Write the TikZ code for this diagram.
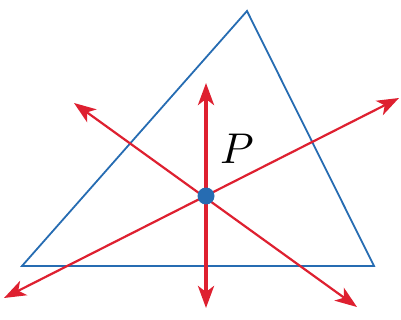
\documentclass[tikz,border=0pt]{standalone}
\usetikzlibrary{arrows.meta}
\definecolor{trired}{RGB}{222,32,48}
\definecolor{triblue}{RGB}{38,108,178}
\begin{document}
\begin{tikzpicture}[x=1pt, y=-1pt, >={Stealth[length=22pt,width=16pt,inset=6pt]}]
    \useasboundingbox (0,0) rectangle (401,320);

    % triangle
    \coordinate (A) at (22,266);
    \coordinate (B) at (374,266);
    \coordinate (C) at (247,11);
    \draw[triblue, line width=1.8pt, line join=miter] (A) -- (B) -- (C) -- cycle;

    % ends of the three lines through P
    \coordinate (up)   at (206,83);
    \coordinate (down) at (206,308);
    \coordinate (nw)   at (74,103);
    \coordinate (se)   at (357,307);
    \coordinate (sw)   at (4,298);
    \coordinate (ne)   at (399,98);

    \draw[<->, trired, line width=3.6pt] (up) -- (down);
    \foreach \s/\e in {nw/se, sw/ne} {
        \draw[<->, trired, line width=2.2pt] (\s) -- (\e);
    }

    \node[circle, fill=triblue, inner sep=0pt, minimum size=17pt] (P) at (206,196) {};
    \node[scale=4.3] (lblP) at (237,149) {$P$};
\end{tikzpicture}
\end{document}
